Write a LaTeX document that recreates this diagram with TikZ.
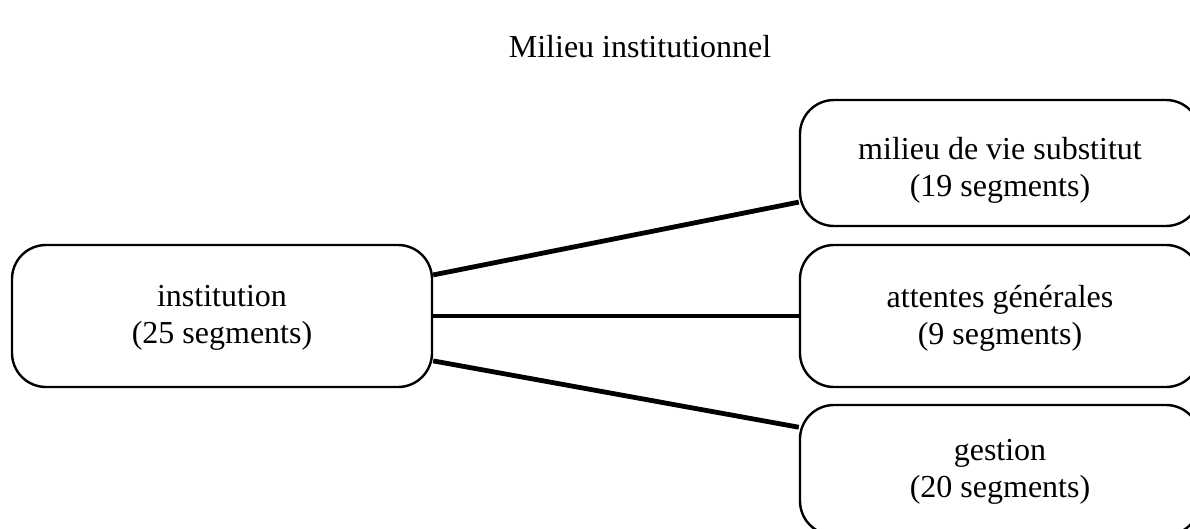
\documentclass[tikz,border=0pt]{standalone}
\usepackage{fontspec}
\setmainfont{Liberation Serif}
\begin{document}
\begin{tikzpicture}[x=1pt,y=-1pt,
  box/.style={draw=black, line width=2.4pt, rounded corners=34pt, inner sep=0pt},
  lbl/.style={align=center, font=\fontsize{32}{37}\selectfont},
  link/.style={line width=4.8pt}]
\useasboundingbox (0,0) rectangle (1190,529);
\clip (0,0) rectangle (1190,529);

\node[lbl] (title) at (640,47) {Milieu institutionnel};

% left node
\node[box, minimum width=420pt, minimum height=142pt] (inst) at (222,316) {};
\node[lbl] (instl) at (222,318) {institution\\(25 segments)};

% right-hand nodes, running past the right edge
\node[box, minimum width=400pt, minimum height=126pt] (sub) at (1000,163) {};
\node[lbl] (subl) at (1000,170) {milieu de vie substitut\\(19 segments)};

\node[box, minimum width=400pt, minimum height=142pt] (att) at (1000,316) {};
\node[lbl] (attl) at (1000,318) {attentes générales\\(9 segments)};

\node[box, minimum width=400pt, minimum height=130pt] (ges) at (1000,470) {};
\node[lbl] (gesl) at (1000,472) {gestion\\(20 segments)};

% connectors
\draw[link] (inst.11.8) -- (sub.191.9);
\draw[link] (inst.east) -- (att.west);
\draw[link] (inst.348.7) -- (ges.168.7);
\end{tikzpicture}
\end{document}
